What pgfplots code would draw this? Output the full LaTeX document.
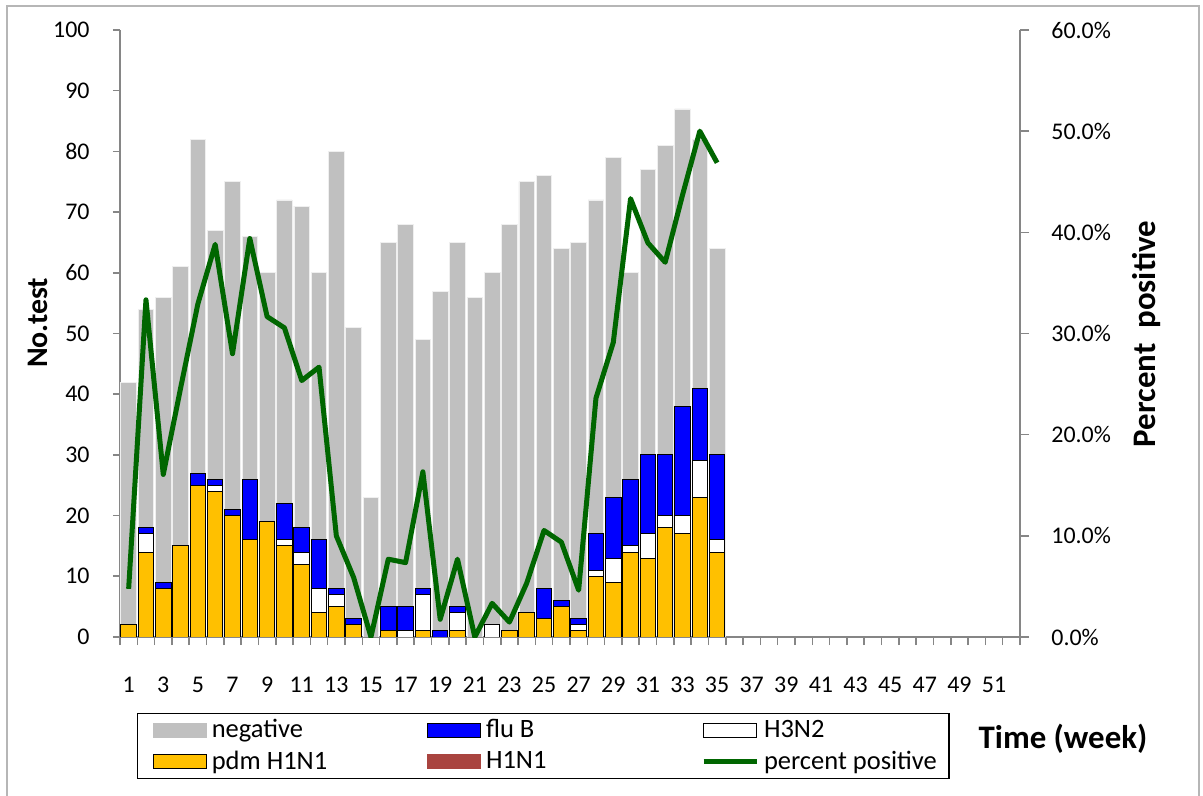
\documentclass[border=0pt]{standalone}
\usepackage{fontspec}
\setmainfont{Carlito}
\usepackage{pgfplots}
\pgfplotsset{compat=1.18}
\usepackage{pgfplotstable}

\definecolor{neg}{HTML}{C0C0C0}
\definecolor{flub}{HTML}{0000FF}
\definecolor{pdm}{HTML}{FFC000}
\definecolor{hone}{HTML}{A9443F}
\definecolor{pgreen}{HTML}{006600}
\definecolor{axgray}{HTML}{868686}

\pgfplotstableread{
week total pdm h3n2 flub pct
1 42 2 0 0 4.76
2 54 14 3 1 33.33
3 56 8 0 1 16.07
4 61 15 0 0 24.59
5 82 25 0 2 32.93
6 67 24 1 1 38.81
7 75 20 0 1 28.00
8 66 16 0 10 39.39
9 60 19 0 0 31.67
10 72 15 1 6 30.56
11 71 12 2 4 25.35
12 60 4 4 8 26.67
13 80 5 2 1 10.00
14 51 2 0 1 5.88
15 23 0 0 0 0.00
16 65 1 0 4 7.69
17 68 0 1 4 7.35
18 49 1 6 1 16.33
19 57 0 0 1 1.75
20 65 1 3 1 7.69
21 56 0 0 0 0.00
22 60 0 2 0 3.33
23 68 1 0 0 1.47
24 75 4 0 0 5.33
25 76 3 0 5 10.53
26 64 5 0 1 9.38
27 65 1 1 1 4.62
28 72 10 1 6 23.61
29 79 9 4 10 29.11
30 60 14 1 11 43.33
31 77 13 4 13 38.96
32 81 18 2 10 37.04
33 87 17 3 18 43.68
34 82 23 6 12 50.00
35 64 14 2 14 46.88
}\data

\pgfplotsset{
  base/.style={width=450bp,height=303.5bp,scale only axis,
    xmin=0.5,xmax=52.5,at={(0,0)},anchor=south west,
    /pgf/number format/assume math mode=true,
    tick label style={font=\fontsize{12}{14}\selectfont, text=black},
  },
}

\begin{document}
\begin{tikzpicture}
\path[use as bounding box] (-60bp,-79.5bp) rectangle (541.5bp,318.5bp);
\draw[axgray!60, line width=0.8bp] (-56.5bp,-85bp) -- (-56.5bp,315.5bp) -- (539.5bp,315.5bp) -- (539.5bp,-85bp);

% grey totals
\begin{axis}[base,
  ymin=0,ymax=100, ytick={0,10,...,100},
  axis x line*=bottom, axis y line*=left,
  axis line style={axgray, line width=0.8bp},
  tick align=outside,
  tick style={axgray, line width=0.8bp},
  major tick length=3.5bp, minor tick length=4bp,
  xtick={1,3,...,51}, minor xtick={0.5,1.5,...,52.5},
  major x tick style={draw=none},
  yticklabel style={anchor=east, inner sep=0pt, xshift=-11.5bp},
  xticklabel style={anchor=center, inner sep=0pt, yshift=-20.5bp},
  ybar, bar width=7.8bp,
]
\addplot[fill=neg, draw=white!75!neg, line width=0.4bp] table[x=week,y=total]{\data};
\end{axis}

% positives, stacked
\begin{axis}[base, ymin=0, ymax=100, hide axis, ybar stacked, bar width=7.8bp]
\addplot[fill=pdm, draw=black, line width=0.5bp] table[x=week,y=pdm]{\data};
\addplot[fill=white, draw=black, line width=0.5bp] table[x=week,y=h3n2]{\data};
\addplot[fill=flub, draw=black, line width=0.5bp] table[x=week,y=flub]{\data};
\end{axis}

% percent positive
\begin{axis}[base, ymin=0, ymax=60,
  axis y line*=right, axis x line=none,
  axis line style={axgray, line width=0.8bp},
  tick align=outside,
  tick style={axgray, line width=0.8bp},
  major tick length=4.5bp,
  ytick={0,10,...,60},
  yticklabels={0.0\%,10.0\%,20.0\%,30.0\%,40.0\%,50.0\%,60.0\%},
  yticklabel style={anchor=west, inner sep=0pt, xshift=11bp},
  legend columns=3,
  legend cell align=left,
  legend style={at={(axis description cs:0.01889,-0.12521)}, anchor=north west,
    draw=black, line width=0.6bp, fill=white,
    font=\fontsize{13.3}{15}\selectfont,
    inner xsep=7.5bp, inner ysep=3bp, row sep=5bp,
    nodes={inner sep=0pt, anchor=west},
    /tikz/every odd column/.append style={column sep=2.5bp}},
]
\addplot[pgreen, line width=2.5bp, line join=round, forget plot] table[x=week,y=pct]{\data};
\addlegendimage{legend image code/.code={\fill[neg] (0bp,-3.5bp) rectangle (26.5bp,3.5bp);}}
\addlegendentry{\makebox[107.5bp][l]{negative}}
\addlegendimage{legend image code/.code={\draw[fill=flub, draw=black, line width=0.5bp] (0bp,-3.5bp) rectangle (26.5bp,3.5bp);}}
\addlegendentry{\makebox[107.5bp][l]{flu B}}
\addlegendimage{legend image code/.code={\draw[fill=white, draw=black, line width=0.5bp] (0bp,-3.5bp) rectangle (26.5bp,3.5bp);}}
\addlegendentry{\makebox[85bp][l]{H3N2}}
\addlegendimage{legend image code/.code={\draw[fill=pdm, draw=black, line width=0.5bp] (0bp,-3.5bp) rectangle (26.5bp,3.5bp);}}
\addlegendentry{\makebox[107.5bp][l]{pdm H1N1}}
\addlegendimage{legend image code/.code={\fill[hone] (0bp,-3.5bp) rectangle (26.5bp,3.5bp);}}
\addlegendentry{\makebox[107.5bp][l]{H1N1}}
\addlegendimage{legend image code/.code={\draw[pgreen, line width=2.5bp] (0bp,0bp) -- (26.5bp,0bp);}}
\addlegendentry{\makebox[85bp][l]{percent positive}}
\end{axis}

\node[rotate=90, font=\bfseries\fontsize{15}{18}\selectfont] at (-41bp,157bp) {No.test};
\node[rotate=90, font=\bfseries\fontsize{16.5}{19}\selectfont] at (513.5bp,151.5bp) {Percent\ \ positive};
\node[font=\bfseries\fontsize{16.5}{19}\selectfont] at (471.5bp,-51bp) {Time (week)};
\end{tikzpicture}
\end{document}
